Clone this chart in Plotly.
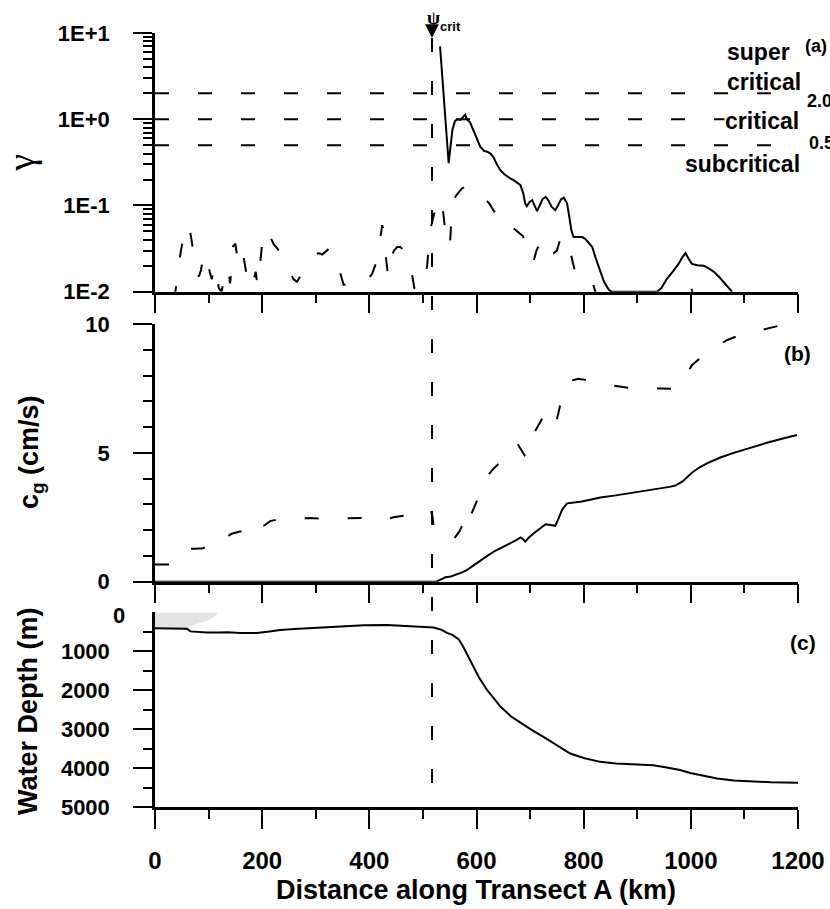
import math
import plotly.graph_objects as go

# ---------------------------------------------------------------- data
# (a) gamma along the transect: solid and dashed estimates
gamma_solid = [
    (532, 7.0), (548, 0.31), (551, 0.45), (555, 0.75), (560, 0.96), (565, 1.0),
    (570, 0.98), (575, 1.05), (579, 1.13), (582, 1.0), (588, 0.92), (594, 0.75),
    (600, 0.6), (607, 0.48), (614, 0.43), (620, 0.42), (626, 0.40), (632, 0.36),
    (638, 0.30), (645, 0.255), (652, 0.23), (658, 0.215), (663, 0.206), (670, 0.195),
    (676, 0.185), (682, 0.172), (687, 0.14), (691, 0.105), (694, 0.098), (699, 0.11),
    (704, 0.115), (708, 0.1), (713, 0.086), (718, 0.1), (723, 0.118), (729, 0.126),
    (734, 0.115), (740, 0.097), (747, 0.088), (752, 0.1), (758, 0.118), (763, 0.123),
    (769, 0.106), (773, 0.075), (777, 0.052), (781, 0.043), (790, 0.043), (797, 0.043),
    (803, 0.041), (810, 0.036), (816, 0.033), (822, 0.025), (830, 0.018), (838, 0.013),
    (847, 0.0105), (852, 0.01), (900, 0.01), (937, 0.01), (945, 0.011), (955, 0.014),
    (966, 0.017), (977, 0.021), (984, 0.025), (990, 0.028), (996, 0.024), (1002, 0.021),
    (1012, 0.0203), (1024, 0.020), (1034, 0.0185), (1043, 0.017), (1052, 0.015),
    (1061, 0.013), (1070, 0.0115), (1077, 0.01),
]
gamma_dashed = [
    (36, 0.008), (42, 0.016), (48, 0.029), (53, 0.043), (58, 0.057), (62, 0.060),
    (65, 0.052), (69, 0.037), (73, 0.024), (78, 0.017), (82, 0.015), (86, 0.018),
    (90, 0.026), (94, 0.028), (98, 0.025), (102, 0.017), (106, 0.014), (110, 0.019),
    (113, 0.020), (116, 0.015), (119, 0.011), (124, 0.010), (128, 0.013), (133, 0.018),
    (137, 0.019), (140, 0.0125), (143, 0.018), (146, 0.034), (150, 0.036), (154, 0.024),
    (158, 0.022), (162, 0.030), (165, 0.026), (169, 0.018), (174, 0.012), (180, 0.011),
    (185, 0.014), (188, 0.017), (191, 0.012), (195, 0.018), (200, 0.036), (205, 0.045),
    (210, 0.053), (216, 0.042), (222, 0.035), (228, 0.032), (235, 0.027), (243, 0.024),
    (250, 0.019), (258, 0.014), (265, 0.013), (271, 0.015), (277, 0.018), (283, 0.021),
    (290, 0.024), (298, 0.026), (305, 0.028), (312, 0.027), (320, 0.030), (326, 0.032),
    (332, 0.028), (338, 0.024), (344, 0.018), (352, 0.012), (365, 0.0125), (378, 0.013),
    (388, 0.012), (398, 0.014), (405, 0.016), (412, 0.021), (417, 0.026), (420, 0.040),
    (424, 0.059), (427, 0.050), (429, 0.041), (431, 0.025), (433, 0.017), (435, 0.015),
    (438, 0.019), (441, 0.025), (446, 0.030), (452, 0.033), (458, 0.033), (464, 0.030),
    (470, 0.028), (475, 0.024), (479, 0.016), (484, 0.011), (490, 0.010), (497, 0.012),
    (503, 0.0136), (508, 0.020), (512, 0.043), (516, 0.060), (520, 0.075), (525, 0.10),
    (531, 0.122), (535, 0.095), (538, 0.082), (541, 0.055), (545, 0.042), (548, 0.033),
    (551, 0.040), (554, 0.088), (558, 0.11), (561, 0.128), (566, 0.14), (572, 0.155),
    (578, 0.165), (585, 0.17), (592, 0.155), (600, 0.138), (608, 0.13), (616, 0.12),
    (624, 0.105), (632, 0.088), (639, 0.075), (646, 0.063), (652, 0.058), (660, 0.062),
    (668, 0.055), (676, 0.050), (682, 0.047), (687, 0.044), (693, 0.030), (699, 0.024),
    (706, 0.022), (712, 0.030), (717, 0.035), (723, 0.042), (728, 0.041), (732, 0.038),
    (738, 0.032), (744, 0.028), (750, 0.030), (756, 0.040), (760, 0.045), (766, 0.040),
    (773, 0.033), (778, 0.024), (783, 0.018), (788, 0.016), (796, 0.0165), (804, 0.016),
    (812, 0.0155), (818, 0.012), (824, 0.009), (860, 0.006), (920, 0.006), (975, 0.008),
    (985, 0.009), (990, 0.0125), (993, 0.013), (997, 0.012), (1002, 0.0104), (1006, 0.008),
    (1020, 0.006),
]
gamma_thresholds = [2.0, 1.0, 0.5]
threshold_extent_km = [0, 1160]

# (b) group speed c_g (cm/s)
cg_solid = [
    (0, 0), (100, 0), (200, 0), (300, 0), (400, 0), (500, 0), (525, 0), (532, 0.07),
    (542, 0.17), (552, 0.2), (561, 0.26), (572, 0.35), (582, 0.45), (592, 0.6),
    (604, 0.78), (620, 1.0), (635, 1.2), (650, 1.35), (663, 1.49), (675, 1.62),
    (682, 1.72), (687, 1.65), (691, 1.55), (698, 1.72), (707, 1.88), (718, 2.05),
    (729, 2.23), (738, 2.2), (747, 2.17), (752, 2.4), (760, 2.8), (769, 3.04),
    (780, 3.06), (794, 3.1), (810, 3.17), (831, 3.27), (860, 3.35), (893, 3.45),
    (930, 3.58), (960, 3.68), (970, 3.72), (984, 3.88), (1002, 4.23), (1015, 4.42),
    (1030, 4.59), (1055, 4.82), (1080, 5.0), (1110, 5.2), (1142, 5.39), (1170, 5.55),
    (1198, 5.69),
]
cg_dashed = [
    (0, 0.67), (30, 0.67), (38, 0.7), (48, 1.0), (56, 1.15), (62, 1.28), (75, 1.28),
    (90, 1.3), (105, 1.45), (115, 1.7), (122, 1.85), (130, 1.85), (138, 1.8), (143, 1.86),
    (150, 1.9), (158, 1.95), (170, 1.95), (178, 1.85), (185, 1.75), (190, 2.0), (196, 2.1),
    (205, 2.2), (215, 2.35), (230, 2.42), (250, 2.45), (270, 2.45), (290, 2.47),
    (310, 2.45), (330, 2.45), (350, 2.45), (370, 2.45), (390, 2.47), (400, 2.5),
    (410, 2.45), (420, 2.38), (430, 2.4), (445, 2.5), (460, 2.55), (480, 2.6), (500, 2.7),
    (510, 2.78), (515, 2.78), (518, 2.5), (520, 2.13), (524, 1.95), (532, 1.85),
    (540, 1.8), (545, 1.68), (550, 1.64), (556, 1.64), (561, 1.75), (568, 1.95),
    (574, 2.2), (580, 2.55), (584, 2.27), (587, 2.35), (590, 2.6), (598, 3.0), (604, 3.3),
    (609, 3.6), (616, 3.9), (622, 4.14), (630, 4.35), (640, 4.55), (650, 4.75),
    (657, 4.98), (665, 5.15), (676, 5.37), (684, 5.1), (690, 4.9), (694, 4.85),
    (697, 5.1), (700, 5.39), (708, 5.8), (716, 6.1), (722, 6.3), (729, 6.3), (736, 6.1),
    (744, 5.86), (750, 6.3), (756, 6.86), (762, 7.37), (770, 7.7), (780, 7.82),
    (790, 7.87), (800, 7.85), (816, 7.8), (840, 7.65), (865, 7.57), (893, 7.5),
    (920, 7.48), (946, 7.5), (971, 7.48), (985, 7.8), (1002, 8.4), (1024, 8.8),
    (1045, 9.1), (1068, 9.38), (1092, 9.57), (1120, 9.72), (1145, 9.83), (1170, 9.96),
    (1195, 10.05),
]

# (c) water depth (m) and the shaded shelf wedge
depth_profile = [
    (0, 410), (50, 410), (60, 420), (66, 490), (80, 510), (97, 520), (120, 518),
    (135, 515), (160, 530), (178, 540), (190, 530), (210, 500), (234, 455), (260, 430),
    (284, 413), (310, 390), (346, 352), (390, 335), (433, 327), (470, 350), (500, 370),
    (520, 390), (535, 450), (545, 530), (555, 580), (567, 700), (575, 880), (585, 1141),
    (595, 1400), (604, 1656), (620, 2000), (645, 2427), (665, 2680), (688, 2898),
    (705, 3040), (725, 3199), (750, 3420), (775, 3627), (800, 3740), (831, 3841),
    (860, 3880), (893, 3900), (930, 3930), (955, 3986), (980, 4050), (999, 4125),
    (1025, 4200), (1049, 4270), (1080, 4320), (1111, 4340), (1150, 4365), (1200, 4375),
]
shelf_wedge = [
    (0, 0), (118, 0), (115, 66), (110, 130), (97, 216), (80, 300), (66, 352),
    (55, 395), (50, 410), (0, 410), (0, 0),
]

psi_crit_km = 517
psi_line_depth_m = 4470

gamma_ticks = [0.01, 0.1, 1, 10]
gamma_ticktext = ["1E-2", "1E-1", "1E+0", "1E+1"]
cg_ticks = [0, 5, 10]
depth_ticks = [1000, 2000, 3000, 4000, 5000]
x_ticks = [0, 200, 400, 600, 800, 1000, 1200]

# ---------------------------------------------------------------- layout
W, H = 830, 909
ML, MR, MT, MB = 155, 32, 33, 102
PH = H - MT - MB
PW = W - ML - MR


def ypap(row):
    return (H - MB - row) / PH


def xpap(col):
    return (col - ML) / PW


SANS = "Liberation Sans, Arial, Helvetica, sans-serif"
SERIF = "Liberation Serif, Times New Roman, serif"
DASH = "14px,29px"
LW = 2


def split(pairs):
    return [p[0] for p in pairs], [p[1] for p in pairs]


fig = go.Figure()

# --- panel (a)
for g in gamma_thresholds:
    fig.add_trace(go.Scatter(x=threshold_extent_km, y=[g, g], mode="lines",
                             line=dict(color="black", width=LW, dash=DASH),
                             xaxis="x", yaxis="y", hoverinfo="skip"))
gx, gy = split(gamma_dashed)
fig.add_trace(go.Scatter(x=gx, y=gy, mode="lines",
                         line=dict(color="black", width=LW, dash=DASH),
                         xaxis="x", yaxis="y"))
gx, gy = split(gamma_solid)
fig.add_trace(go.Scatter(x=gx, y=gy, mode="lines",
                         line=dict(color="black", width=LW),
                         xaxis="x", yaxis="y"))

# --- panel (b)
cx, cy = split(cg_dashed)
fig.add_trace(go.Scatter(x=cx, y=cy, mode="lines",
                         line=dict(color="black", width=LW, dash=DASH),
                         xaxis="x2", yaxis="y2"))
cx, cy = split(cg_solid)
fig.add_trace(go.Scatter(x=cx, y=cy, mode="lines",
                         line=dict(color="black", width=LW),
                         xaxis="x2", yaxis="y2"))

# --- panel (c)
sx, sy = split(shelf_wedge)
fig.add_trace(go.Scatter(x=sx, y=sy, mode="lines", fill="toself",
                         fillcolor="#e4e4e4", line=dict(width=0, color="#e4e4e4"),
                         xaxis="x3", yaxis="y3", hoverinfo="skip"))
dx, dy = split(depth_profile)
fig.add_trace(go.Scatter(x=dx, y=dy, mode="lines",
                         line=dict(color="black", width=LW),
                         xaxis="x3", yaxis="y3"))

dom_a = [ypap(291.7), 1.0]
dom_b = [ypap(581.7), ypap(324)]
dom_c = [0.0, ypap(612.3)]

tickfont_y = dict(family=SANS, size=22, color="black", weight="bold")
tickfont_x = dict(family=SANS, size=24, color="black", weight="bold")


def xaxis_common(anchor, labels):
    return dict(
        domain=[0, 1], range=[0, 1200], anchor=anchor,
        showline=True, linecolor="black", linewidth=2.5, mirror=False,
        showgrid=False, zeroline=False,
        ticks="outside", ticklen=19, tickwidth=2, tickcolor="black",
        tickvals=x_ticks, showticklabels=labels, tickfont=tickfont_x,
        ticklabelstandoff=11,
        minor=dict(ticks="outside", ticklen=9, tickwidth=2, tickcolor="black",
                   dtick=100, showgrid=False),
    )


log_minor = [m * 10 ** e for e in (-2, -1, 0) for m in range(2, 10)]

fig.update_layout(
    width=W, height=H,
    margin=dict(l=ML, r=MR, t=MT, b=MB, autoexpand=False),
    paper_bgcolor="white", plot_bgcolor="white",
    showlegend=False,
    font=dict(family=SANS, color="black"),
    xaxis=xaxis_common("y", False),
    xaxis2=xaxis_common("y2", False),
    xaxis3=xaxis_common("y3", True),
    yaxis=dict(
        domain=dom_a, type="log", range=[-2, 1], anchor="x",
        showline=True, linecolor="black", linewidth=2.5, showgrid=False, zeroline=False,
        ticks="outside", ticklen=19, tickwidth=2, tickcolor="black",
        tickvals=gamma_ticks, ticktext=gamma_ticktext, tickfont=tickfont_y,
        ticklabelstandoff=19,
        title=dict(text="γ", standoff=14,
                   font=dict(family=SERIF, size=38, color="black")),
        minor=dict(ticks="outside", ticklen=9, tickwidth=2, tickcolor="black",
                   tickmode="array", tickvals=log_minor, showgrid=False),
    ),
    yaxis2=dict(
        domain=dom_b, range=[0, 10], anchor="x2",
        showline=True, linecolor="black", linewidth=2.5, showgrid=False, zeroline=False,
        ticks="outside", ticklen=19, tickwidth=2, tickcolor="black",
        tickvals=cg_ticks, tickfont=tickfont_y, ticklabelstandoff=19,
        minor=dict(ticks="outside", ticklen=9, tickwidth=2, tickcolor="black",
                   dtick=1, showgrid=False),
    ),
    yaxis3=dict(
        domain=dom_c, range=[5000, 0], anchor="x3",
        showline=True, linecolor="black", linewidth=2.5, showgrid=False, zeroline=False,
        ticks="outside", ticklen=19, tickwidth=2, tickcolor="black",
        tickvals=depth_ticks, tickfont=tickfont_y, ticklabelstandoff=19,
        minor=dict(ticks="outside", ticklen=9, tickwidth=2, tickcolor="black",
                   tickmode="array", tickvals=[500, 1500, 2500, 3500, 4500],
                   showgrid=False),
    ),
)

# vertical marker of the critical latitude through all panels
fig.add_shape(type="line", xref="x", yref="paper",
              x0=psi_crit_km, x1=psi_crit_km,
              y0=ypap(38),
              y1=dom_c[0] + (dom_c[1] - dom_c[0]) * (1 - psi_line_depth_m / 5000),
              line=dict(color="black", width=LW, dash=DASH))

bold = dict(family=SANS, color="black", weight="bold")
ann = []


def text(s, col, row, size, xanchor="left", yanchor="middle", angle=0, **kw):
    f = dict(bold, size=size)
    f.update(kw.pop("font", {}))
    ann.append(dict(text=s, xref="paper", yref="paper", x=xpap(col), y=ypap(row),
                    xanchor=xanchor, yanchor=yanchor, showarrow=False,
                    textangle=angle, font=f, **kw))


# psi_crit arrow and label
ann.append(dict(text="", xref="x", yref="paper", x=psi_crit_km, y=ypap(38),
                ax=0, ay=-12, showarrow=True, arrowhead=2, arrowsize=1.1,
                arrowwidth=2.5, arrowcolor="black"))
text("ψ", 425, 18, 19, font=dict(family=SERIF, weight="bold"))
text("crit", 438, 26, 13)

# regime labels
text("super", 725, 52, 23)
text("critical", 725, 82, 23)
text("2.0", 805, 101, 18)
text("critical", 724, 121, 23, bgcolor="white", borderpad=0)
text("0.5", 807, 143, 18)
text("subcritical", 683, 164, 23)

# panel tags
text("(a)", 803, 46, 18)
text("(b)", 797, 353, 21, xanchor="center")
text("(c)", 803, 642, 21, xanchor="center")

# axis titles
text("c<sub>g</sub> (cm/s)", 31, 452, 27, xanchor="center", angle=-90)
text("Water Depth (m)", 28, 711, 27, xanchor="center", angle=-90)
text("Distance along Transect A (km)", 476, 890, 27, xanchor="center")
text("0", 127, 615, 22, xanchor="right")

fig.update_layout(annotations=ann)

fig.write_html("out.html")
